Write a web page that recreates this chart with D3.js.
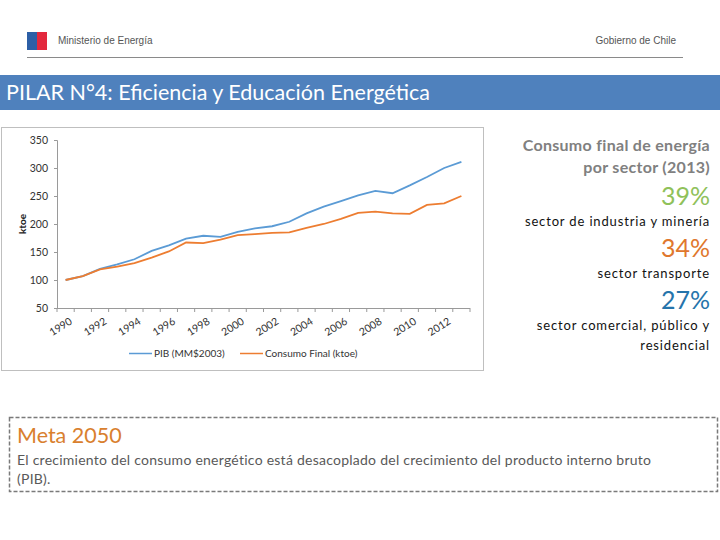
<!DOCTYPE html>
<html>
<head>
<meta charset="utf-8">
<script src="https://cdn.jsdelivr.net/npm/d3@7"></script>
<style>
  body { margin: 0; background: #fff; }
  svg { display: block; }
</style>
</head>
<body>
<svg width="720" height="540"></svg>
<script>
// data
var years = d3.range(1990, 2014).map(String);
var pib = [100, 107, 120, 128, 137, 152, 162, 174, 179, 177, 186, 192,
           196, 204, 219, 231, 241, 251, 259, 255, 269, 284, 300, 311];
var consumo = [100, 107, 119, 124, 130, 140, 151, 167, 166, 172, 180, 182,
               184, 185, 193, 200, 209, 220, 222, 219, 218, 234, 237, 250];
var yTicks = [50, 100, 150, 200, 250, 300, 350];
var seriesNames = ["PIB (MM$2003)", "Consumo Final (ktoe)"];
var seriesColors = ["#5b9bd5", "#ed7d31"];
var shares = ["39%", "34%", "27%"];
var shareLabels = [["sector de industria y minería"], ["sector transporte"],
                   ["sector comercial, público y", "residencial"]];
var shareColors = ["#8fc15a", "#e0772d", "#2574ab"];

var svg = d3.select("svg");

// header
svg.append("rect").attr("x", 27).attr("y", 32).attr("width", 10).attr("height", 18).attr("fill", "#2d5fa6");
svg.append("rect").attr("x", 37).attr("y", 32).attr("width", 10).attr("height", 18).attr("fill", "#e3283d");
svg.append("text")
   .attr("x", 58).attr("y", 44)
   .attr("font-family", "Liberation Sans, Arial, sans-serif")
   .attr("font-size", "10px")
   .style("fill", "#555")
   .text("Ministerio de Energía");
svg.append("text")
   .attr("x", 676).attr("y", 44)
   .attr("text-anchor", "end")
   .attr("font-family", "Liberation Sans, Arial, sans-serif")
   .attr("font-size", "10px")
   .style("fill", "#555")
   .text("Gobierno de Chile");
svg.append("line")
   .attr("x1", 27).attr("x2", 683).attr("y1", 57.5).attr("y2", 57.5)
   .style("stroke", "#8a8a8a");

// banner
svg.append("rect").attr("x", 0).attr("y", 75).attr("width", 720).attr("height", 35).attr("fill", "#4f81bd");
svg.append("text")
   .attr("x", 6).attr("y", 100)
   .attr("font-family", "Lato, sans-serif")
   .attr("font-size", "21.5px")
   .style("fill", "#fff")
   .text("PILAR N°4: Eficiencia y Educación Energética");

// chart frame
svg.append("rect")
   .attr("x", 1.5).attr("y", 127.5).attr("width", 482).attr("height", 243)
   .attr("fill", "#fff")
   .style("stroke", "#bfbfbf");

var mLeft = 57, mRight = 470, mTop = 140, mBottom = 308;
var x = d3.scaleBand().domain(years).range([mLeft, mRight]);
var y = d3.scaleLinear().domain([50, 350]).range([mBottom, mTop]);
var cx = function(d) { return x(d) + x.bandwidth() / 2; };

var g = svg.append("g");

// y axis
g.append("g")
 .attr("transform", "translate(" + mLeft + ",0)")
 .call(d3.axisLeft(y).tickValues(yTicks).tickSize(3).tickPadding(6))
 .call(function(a) {
     a.select(".domain").style("stroke", "#9a9a9a");
     a.selectAll(".tick line").style("stroke", "#9a9a9a");
     a.selectAll("text")
      .attr("font-family", "Lato, sans-serif")
      .attr("font-size", "10.5px")
      .style("fill", "#333");
 });

g.append("text")
 .attr("transform", "translate(26," + 224 + ") rotate(-90)")
 .attr("text-anchor", "middle")
 .attr("font-family", "Lato, sans-serif")
 .attr("font-weight", "bold")
 .attr("font-size", "10px")
 .style("fill", "#222")
 .text("ktoe");

// x axis: line, ticks between categories, rotated labels
g.append("line")
 .attr("x1", mLeft).attr("x2", mRight).attr("y1", mBottom + 0.5).attr("y2", mBottom + 0.5)
 .style("stroke", "#9a9a9a");
g.selectAll(".xtick")
 .data(years.concat(["end"]))
 .enter().append("line")
 .attr("class", "xtick")
 .attr("x1", function(d, i) { return i < years.length ? x(d) : mRight; })
 .attr("x2", function(d, i) { return i < years.length ? x(d) : mRight; })
 .attr("y1", mBottom).attr("y2", mBottom + 4)
 .style("stroke", "#9a9a9a");
g.selectAll(".xlabel")
 .data(years.filter(function(d, i) { return i % 2 === 0; }))
 .enter().append("text")
 .attr("class", "xlabel")
 .attr("text-anchor", "end")
 .attr("transform", function(d) { return "translate(" + (cx(d) + 4) + "," + (mBottom + 10) + ") rotate(-32)"; })
 .attr("dy", "0.6em")
 .attr("font-family", "Lato, sans-serif")
 .attr("font-size", "10.5px")
 .style("fill", "#333")
 .text(function(d) { return d; });

// lines
var line = d3.line().x(function(d, i) { return cx(years[i]); }).y(function(d) { return y(d); });
[pib, consumo].forEach(function(s, k) {
    g.append("path")
     .datum(s)
     .attr("d", line)
     .attr("fill", "none")
     .style("stroke", seriesColors[k])
     .style("stroke-width", 1.8);
});

// legend
var legX = [129, 240];
seriesNames.forEach(function(n, k) {
    g.append("line")
     .attr("x1", legX[k]).attr("x2", legX[k] + 23).attr("y1", 353.5).attr("y2", 353.5)
     .style("stroke", seriesColors[k]).style("stroke-width", 1.5);
    g.append("text")
     .attr("x", legX[k] + 25).attr("y", 357)
     .attr("font-family", "Lato, sans-serif")
     .attr("font-size", "10px")
     .style("fill", "#333")
     .text(n);
});

// right side text
var rx = 710;
var rfont = "Lato, sans-serif";
svg.append("text").attr("x", rx).attr("y", 151).attr("text-anchor", "end")
   .attr("font-family", rfont).attr("font-size", "16px").attr("font-weight", "bold")
   .attr("letter-spacing", "0.3px").style("fill", "#808080")
   .text("Consumo final de energía");
svg.append("text").attr("x", rx).attr("y", 173).attr("text-anchor", "end")
   .attr("font-family", rfont).attr("font-size", "16px").attr("font-weight", "bold")
   .attr("letter-spacing", "0.3px").style("fill", "#808080")
   .text("por sector (2013)");
var shareY = [205, 257, 309];
shares.forEach(function(s, k) {
    svg.append("text").attr("x", rx).attr("y", shareY[k]).attr("text-anchor", "end")
       .attr("font-family", rfont).attr("font-size", "25px").style("fill", shareColors[k])
       .text(s);
    shareLabels[k].forEach(function(t, j) {
        svg.append("text").attr("x", rx).attr("y", shareY[k] + 21 + j * 20).attr("text-anchor", "end")
           .attr("font-family", rfont).attr("font-size", "13px").attr("letter-spacing", "0.85px")
           .style("fill", "#111")
           .text(t);
    });
});

// bottom dashed box
svg.append("rect")
   .attr("x", 9.5).attr("y", 417.5).attr("width", 708).attr("height", 74)
   .attr("fill", "none")
   .style("stroke", "#7a7a7a")
   .style("stroke-width", 1.5)
   .style("stroke-dasharray", "4,2");
svg.append("text").attr("x", 17).attr("y", 443)
   .attr("font-family", rfont).attr("font-size", "21.5px").style("fill", "#d9802e")
   .text("Meta 2050");
svg.append("text").attr("x", 17).attr("y", 465)
   .attr("font-family", rfont).attr("font-size", "14px").attr("letter-spacing", "0.25px")
   .style("fill", "#595959")
   .text("El crecimiento del consumo energético está desacoplado del crecimiento del producto interno bruto");
svg.append("text").attr("x", 17).attr("y", 484)
   .attr("font-family", rfont).attr("font-size", "14px").attr("letter-spacing", "0.25px")
   .style("fill", "#595959")
   .text("(PIB).");
</script>
</body>
</html>
